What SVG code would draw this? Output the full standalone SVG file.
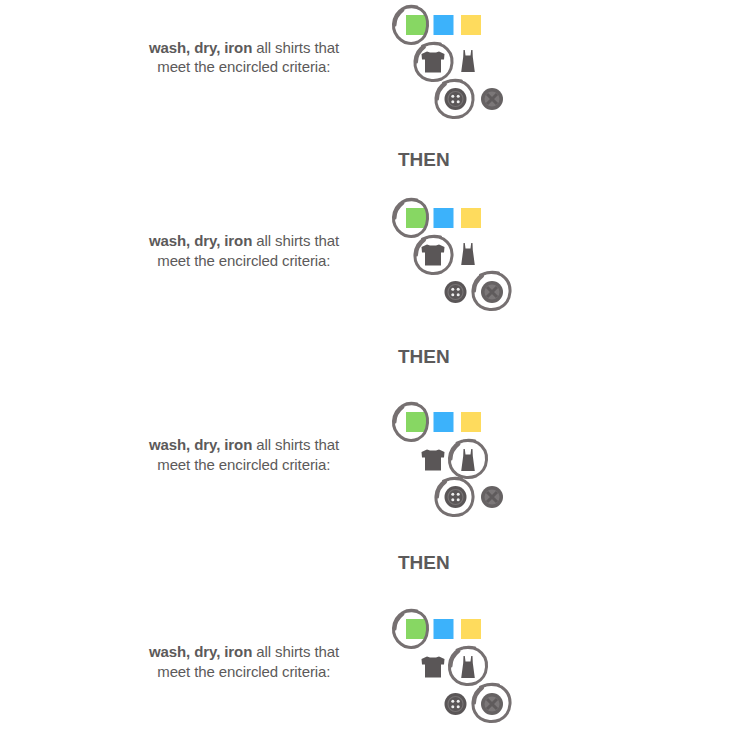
<svg xmlns="http://www.w3.org/2000/svg" width="730" height="735" viewBox="0 0 730 735">
<style>
text{font-family:"Liberation Sans",Arial,sans-serif;fill:#5c5a5a}
.t{font-size:15px;text-anchor:middle;letter-spacing:-.1px}
.t tspan.b{font-weight:700}
.then{font-size:19px;font-weight:700}
.ring{fill:none;stroke:#767071;stroke-width:3;stroke-linecap:round;stroke-linejoin:round}
.g{fill:#87d763}.bl{fill:#3cb2fb}.y{fill:#fedb5d}
.d{fill:#5a5657}
</style>
<defs>
<path id="ring" class="ring" d="M-11-16C-5-19 4-19.500 10-16C16-12 19-6 18.500 1C18 8 14 14 8 17C2 19.500-6 19-11 15.500C-16 12-19 6-18.500-1C-18-7-15-13-9-16.500C-4-19 3-19 7-18M-9-15C-14-11-17-6-17 0"/>
<path id="ringg" class="ring" d="M-9-16C-3-19 5-19 10-15.500C15-12 17-5 16.500 1C16 8 13 14 7 17C1 19.500-6 18.500-10 15C-15 11-18 6-17.500-1C-17-7-14-13-8-16.500C-4-19 2-19 6-18M-8-15C-13-11-16-6-16 0"/>
<g id="squares">
<rect class="g" x="406" y="15" width="20" height="20"/>
<rect class="bl" x="433.500" y="15" width="20" height="20"/>
<rect class="y" x="461" y="15" width="20" height="20"/>
</g>
<path id="tee" class="d" d="M-6-10.500L-3-9.500L3-9.500L6-10.500L11.500-8L11-2.500L8-2.500L8 10.500L-8 10.500L-8-2.500L-11-2.500L-11.500-8Z"/>
<path id="tank" class="d" d="M-4.500-11L-3.200-11L-2.500-5.500L2.500-5.500L3.200-11L4.500-11L4.800-4L6.800 11L-6.800 11L-4.800-4Z"/>
<g id="btn">
<circle r="11" class="d"/>
<circle r="7.500" fill="none" stroke="#777374" stroke-width="1.200"/>
<g fill="#eeeeee"><circle cx="-2.700" cy="-2.700" r="1.500"/><circle cx="2.700" cy="-2.700" r="1.500"/><circle cx="-2.700" cy="2.700" r="1.500"/><circle cx="2.700" cy="2.700" r="1.500"/></g>
</g>
<g id="xbtn">
<circle r="11" fill="#666263"/>
<circle r="7.500" fill="#7b7778"/>
<path d="M-5-5L5 5M5-5L-5 5" stroke="#5f5b5c" stroke-width="3"/>
</g>
</defs>

<g id="connectors"/>

<g id="row1">
<text class="t" x="244" y="53"><tspan class="b">wash, dry, iron</tspan> all shirts that</text>
<text class="t" x="243.800" y="72">meet the encircled criteria:</text>
<use href="#squares"/>
<use href="#tee" x="433" y="62"/>
<use href="#tank" x="468" y="61"/>
<use href="#btn" x="455.500" y="99"/>
<use href="#xbtn" x="492" y="99"/>
<use href="#ringg" x="411" y="25"/>
<use href="#ring" x="433.500" y="62"/>
<use href="#ring" x="454.500" y="99"/>
</g>
<text id="then1" class="then" x="398" y="166">THEN</text>

<g id="row2">
<text class="t" x="244" y="246"><tspan class="b">wash, dry, iron</tspan> all shirts that</text>
<text class="t" x="243.800" y="266">meet the encircled criteria:</text>
<use href="#squares" y="193"/>
<use href="#tee" x="433" y="255"/>
<use href="#tank" x="468" y="254"/>
<use href="#btn" x="455.500" y="292"/>
<use href="#xbtn" x="492" y="292"/>
<use href="#ringg" x="411" y="218"/>
<use href="#ring" x="433.500" y="255"/>
<use href="#ring" x="491.500" y="291"/>
</g>
<text id="then2" class="then" x="398" y="363">THEN</text>

<g id="row3">
<text class="t" x="244" y="450"><tspan class="b">wash, dry, iron</tspan> all shirts that</text>
<text class="t" x="243.800" y="470">meet the encircled criteria:</text>
<use href="#squares" y="397"/>
<use href="#tee" x="433" y="460"/>
<use href="#tank" x="468" y="460"/>
<use href="#btn" x="455.500" y="497"/>
<use href="#xbtn" x="492" y="497"/>
<use href="#ringg" x="411" y="422"/>
<use href="#ring" x="468" y="459"/>
<use href="#ring" x="454.500" y="497"/>
</g>
<text id="then3" class="then" x="398" y="569">THEN</text>

<g id="row4">
<text class="t" x="244" y="657"><tspan class="b">wash, dry, iron</tspan> all shirts that</text>
<text class="t" x="243.800" y="677">meet the encircled criteria:</text>
<use href="#squares" y="604"/>
<use href="#tee" x="433" y="667"/>
<use href="#tank" x="468" y="667"/>
<use href="#btn" x="455.500" y="704"/>
<use href="#xbtn" x="492" y="704"/>
<use href="#ringg" x="411" y="629"/>
<use href="#ring" x="468" y="666"/>
<use href="#ring" x="491.500" y="703"/>
</g>
</svg>
